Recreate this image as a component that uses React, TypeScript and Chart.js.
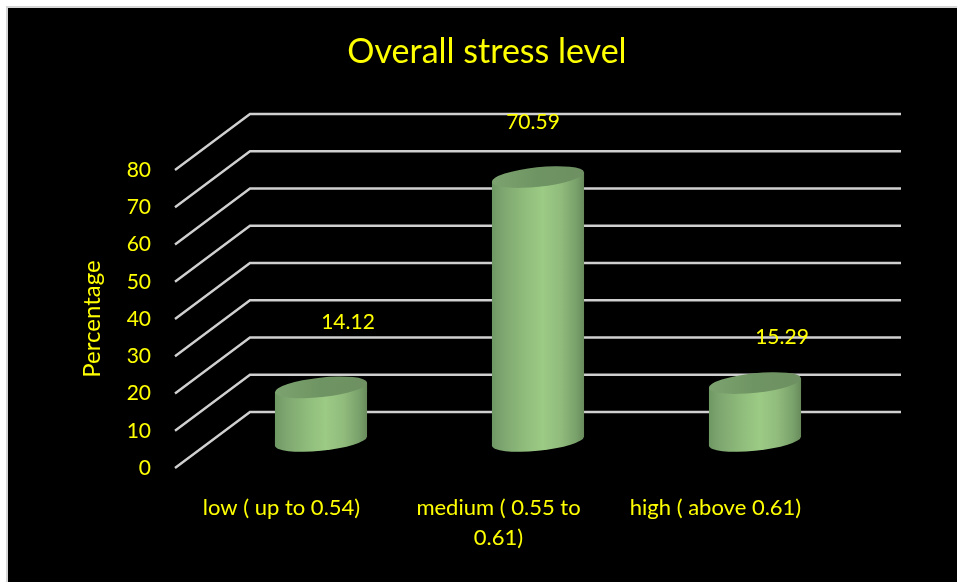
import React, { useEffect, useRef } from "react";
import { Chart, registerables } from "chart.js";

Chart.register(...registerables);

const categories = [["low ( up to 0.54)"], ["medium ( 0.55 to", "0.61)"], ["high ( above 0.61)"]];
const percentages = [14.12, 70.59, 15.29];
const yTicks = [0, 10, 20, 30, 40, 50, 60, 70, 80];
const titleText = "Overall stress level";
const yTitleText = "Percentage";

const FONT = "Lato, Carlito, 'Open Sans', sans-serif";
const YELLOW = "#ffff00";
const DEPTH_X = 75;
const DEPTH_Y = -56;
const labelShiftX = [27, -5, 27];
const labelShiftY = [-65, -55, -46];
const TILT = (-6 * Math.PI) / 180;

const cylinderPlugin = {
  id: "cylinder3d",
  beforeDatasetsDraw(chart: any) {
    const { ctx, chartArea, scales } = chart;
    ctx.save();
    ctx.strokeStyle = "#d0d0d0";
    ctx.lineWidth = 2.4;
    ctx.lineJoin = "miter";
    for (const v of yTicks) {
      const y = scales.y.getPixelForValue(v);
      ctx.beginPath();
      ctx.moveTo(chartArea.left, y);
      ctx.lineTo(chartArea.left + DEPTH_X, y + DEPTH_Y);
      ctx.lineTo(chartArea.right + DEPTH_X, y + DEPTH_Y);
      ctx.stroke();
    }
    ctx.restore();
  },
  afterDatasetsDraw(chart: any) {
    const { ctx } = chart;
    const bars = chart.getDatasetMeta(0).data;
    bars.forEach((bar: any, i: number) => {
      const cx = bar.x + DEPTH_X / 2;
      const topY = bar.y + DEPTH_Y / 2;
      const baseY = bar.base + DEPTH_Y / 2 + 1;
      const a = bar.width * 0.503;
      const b = bar.width * 0.106;
      const t = Math.atan2(-b * Math.sin(TILT), a * Math.cos(TILT));
      const ex = a * Math.cos(t) * Math.cos(TILT) - b * Math.sin(t) * Math.sin(TILT);
      const ey = a * Math.cos(t) * Math.sin(TILT) + b * Math.sin(t) * Math.cos(TILT);

      const side = ctx.createLinearGradient(cx - ex, 0, cx + ex, 0);
      side.addColorStop(0, "#6e9863");
      side.addColorStop(0.12, "#7ea670");
      side.addColorStop(0.35, "#8fbc7b");
      side.addColorStop(0.55, "#9ccb85");
      side.addColorStop(0.75, "#90bb7c");
      side.addColorStop(0.92, "#78a06a");
      side.addColorStop(1, "#688a5b");
      ctx.save();
      ctx.beginPath();
      ctx.moveTo(cx + ex, topY + ey);
      ctx.lineTo(cx + ex, baseY + ey);
      ctx.ellipse(cx, baseY, a, b, TILT, t, t + Math.PI, false);
      ctx.lineTo(cx - ex, topY - ey);
      ctx.closePath();
      ctx.fillStyle = side;
      ctx.fill();

      const cap = ctx.createLinearGradient(cx - ex, 0, cx + ex, 0);
      cap.addColorStop(0, "#7ca36f");
      cap.addColorStop(0.5, "#6f9463");
      cap.addColorStop(1, "#6e9062");
      ctx.beginPath();
      ctx.ellipse(cx, topY, a, b, TILT, 0, Math.PI * 2);
      ctx.fillStyle = cap;
      ctx.fill();
      ctx.restore();

      ctx.save();
      ctx.fillStyle = YELLOW;
      ctx.font = `21px ${FONT}`;
      ctx.textAlign = "center";
      ctx.textBaseline = "middle";
      ctx.fillText(percentages[i].toFixed(2), cx + labelShiftX[i], topY + labelShiftY[i]);
      ctx.restore();
    });
  },
};

export default function App() {
  const ref = useRef<HTMLCanvasElement | null>(null);
  useEffect(() => {
    const chart = new Chart(ref.current as HTMLCanvasElement, {
      type: "bar",
      data: {
        labels: categories as any,
        datasets: [
          {
            data: percentages,
            backgroundColor: "transparent",
            borderWidth: 0,
            barPercentage: 0.424,
            categoryPercentage: 1,
          },
        ],
      },
      plugins: [cylinderPlugin],
      options: {
        responsive: false,
        animation: false,
        layout: { padding: { left: 9, right: 0, top: 0, bottom: 0 } },
        plugins: {
          legend: { display: false },
          tooltip: { enabled: false },
          title: {
            display: true,
            text: titleText,
            color: YELLOW,
            font: { family: FONT, size: 34, weight: "normal", lineHeight: 1.2 },
            padding: { top: 24, bottom: 97.2 },
          },
        },
        scales: {
          x: {
            grid: { display: false },
            border: { display: false },
            afterFit: (s: any) => {
              s.height = 114;
            },
            ticks: {
              color: YELLOW,
              font: { family: FONT, size: 22, lineHeight: 1.36 },
              padding: 17,
              labelOffset: -2,
              maxRotation: 0,
              minRotation: 0,
              autoSkip: false,
            },
          },
          y: {
            min: 0,
            max: 80,
            afterFit: (s: any) => {
              s.width = 158;
            },
            grid: { display: false },
            border: { display: false },
            ticks: {
              color: YELLOW,
              stepSize: 10,
              font: { family: FONT, size: 21 },
              padding: 16,
            },
            title: {
              display: true,
              text: yTitleText,
              color: YELLOW,
              font: { family: FONT, size: 24 },
              padding: { top: 61, bottom: 0 },
            },
          },
          yDepth: {
            position: "right",
            min: 0,
            max: 80,
            afterFit: (s: any) => {
              s.width = 131;
            },
            grid: { display: false },
            border: { display: false },
            ticks: { display: false },
          },
        },
      },
    } as any);
    return () => chart.destroy();
  }, []);
  return (
    <div
      style={{
        position: "absolute",
        left: 8,
        top: 8,
        width: 949,
        height: 574,
        background: "#000",
        boxShadow: "0 0 0 2px #d6d6d6",
      }}
    >
      <canvas ref={ref} width={949} height={574} style={{ display: "block" }} />
    </div>
  );
}
